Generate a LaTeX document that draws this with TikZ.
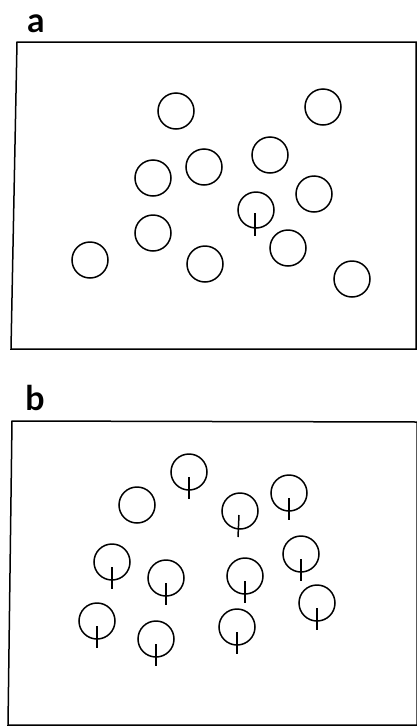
\documentclass[tikz,border=0pt]{standalone}
\usepackage{fontspec}
\setsansfont{Lato}
\begin{document}
\begin{tikzpicture}[x=1pt,y=-1pt,
  disc/.style={circle,draw,line width=1.5pt,minimum size=36pt,inner sep=0pt},
  frame/.style={line width=1.5pt,line join=miter},
  tick/.style={line width=1.5pt},
  lbl/.style={font=\sffamily\bfseries\fontsize{34}{34}\selectfont,inner sep=0pt}]
\useasboundingbox (0,0) rectangle (417,726);
% panel a
\node[lbl] (la) at (36,24) {a};
\coordinate (a1) at (17,42);
\coordinate (a2) at (416,42);
\coordinate (a3) at (416,349);
\coordinate (a4) at (11,349);
\draw[frame] (a1) -- (a2) -- (a3) -- (a4) -- cycle;
\node[disc] (ca1) at (176,111) {};
\node[disc] (ca2) at (323,107) {};
\node[disc] (ca3) at (270,155) {};
\node[disc] (ca4) at (204,167) {};
\node[disc] (ca5) at (153,178) {};
\node[disc] (ca6) at (314,194) {};
\node[disc] (ca7) at (256,210) {};
\node[disc] (ca8) at (153,233) {};
\node[disc] (ca9) at (288,248) {};
\node[disc] (ca10) at (90,260) {};
\node[disc] (ca11) at (205,264) {};
\node[disc] (ca12) at (352,279) {};
\draw[tick] ([xshift=-1pt,yshift=-3pt]ca7.center) -- ([xshift=-1pt,yshift=-26pt]ca7.center);
% panel b
\node[lbl] (lb) at (35,398) {b};
\coordinate (b1) at (12,421);
\coordinate (b2) at (417,422);
\coordinate (b3) at (417,725);
\coordinate (b4) at (8,725);
\draw[frame] (b1) -- (b2) -- (b3) -- (b4) -- cycle;
\node[disc] (cb1) at (189,472) {};
\node[disc] (cb2) at (137,505) {};
\node[disc] (cb3) at (289,493) {};
\node[disc] (cb4) at (240,511) {};
\node[disc] (cb5) at (112,562) {};
\node[disc] (cb6) at (166,578) {};
\node[disc] (cb7) at (245,576) {};
\node[disc] (cb8) at (301,554) {};
\node[disc] (cb9) at (317,603) {};
\node[disc] (cb10) at (97,621) {};
\node[disc] (cb11) at (156,639) {};
\node[disc] (cb12) at (237,627) {};
\foreach \n in {cb1,cb3,cb5,cb6,cb7,cb8,cb9,cb10,cb11,cb12}
  \draw[tick] ([yshift=-5pt]\n.center) -- ([yshift=-27pt]\n.center);
\draw[tick] ([xshift=-1pt,yshift=-4pt]cb4.center) -- ([xshift=-2pt,yshift=-26pt]cb4.center);
\end{tikzpicture}
\end{document}
